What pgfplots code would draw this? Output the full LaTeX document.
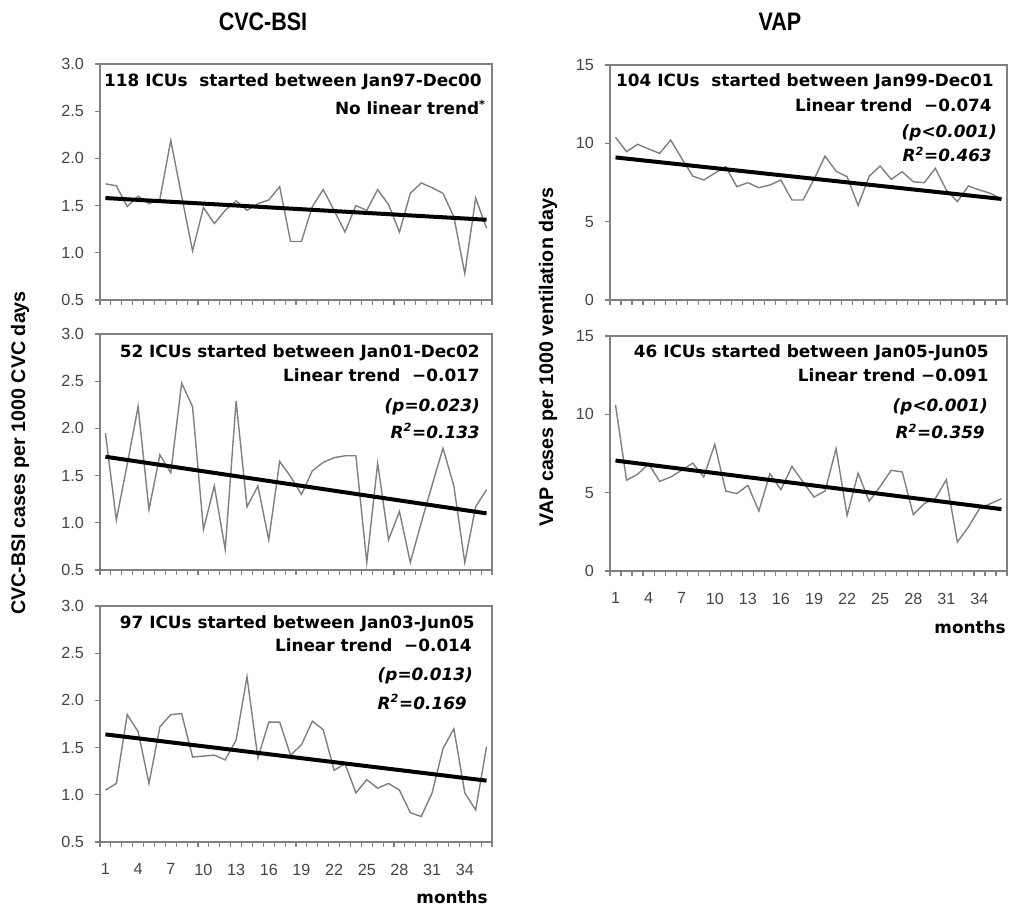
\documentclass[border=0pt]{standalone}
\usepackage{pgfplots}
\pgfplotsset{compat=1.18}
\usepackage{fontspec}
\setmainfont{Liberation Sans}
\newfontfamily\notefont{DejaVu Sans}
\usepackage{graphicx}

\definecolor{rawline}{HTML}{7F7F7F}
\definecolor{framegray}{HTML}{808080}
\definecolor{ticktext}{HTML}{444444}

\pgfplotsset{
  panel/.style={
    scale only axis, width=98mm, height=59mm,
    xmin=0.5, xmax=36.5,
    axis line style={draw=framegray, line width=0.35mm},
    tick style={draw=framegray, line width=0.3mm},
    tick align=outside, major tick length=1.2mm,
    xtick pos=bottom, ytick pos=left,
    xtick={0.5,1.5,...,36.5}, xticklabels={},
    /pgf/number format/assume math mode=true,
    ticklabel style={font=\fontsize{11.5}{13}\selectfont, text=ticktext},
    yticklabel style={xshift=-1.6mm},
    clip=false,
  },
  monthlabels/.style={
    extra x ticks={1,4,...,34},
    extra x tick style={major tick length=0pt,
      xticklabel style={yshift=-4.2mm}},
  },
  cvc/.style={panel, ymin=0.5, ymax=3.0, ytick={0.5,1.0,...,3.0},
    yticklabel style={/pgf/number format/.cd, fixed, fixed zerofill, precision=1}},
  vap/.style={panel, width=99.25mm, height=58.75mm, ymin=0, ymax=15, ytick={0,5,10,15}},
  raw/.style={rawline, line width=0.35mm},
  trend/.style={black, line width=1mm},
}

\tikzset{note/.style={anchor=base east, inner sep=0pt,
  font=\notefont\fontsize{12}{14}\selectfont\bfseries}}

\begin{document}
\begin{tikzpicture}
\useasboundingbox (0,0) rectangle (253mm,-227.5mm);

% CVC-BSI, 118 ICUs
\begin{axis}[cvc, at={(25mm,-75mm)}, anchor=south west]
\addplot[raw] coordinates {(1,1.73)(2,1.71)(3,1.49)(4,1.60)(5,1.52)(6,1.57)(7,2.19)(8,1.60)(9,1.02)(10,1.48)(11,1.31)(12,1.45)(13,1.55)(14,1.45)(15,1.52)(16,1.56)(17,1.70)(18,1.12)(19,1.12)(20,1.49)(21,1.67)(22,1.45)(23,1.22)(24,1.50)(25,1.45)(26,1.67)(27,1.51)(28,1.22)(29,1.63)(30,1.74)(31,1.69)(32,1.63)(33,1.38)(34,0.78)(35,1.58)(36,1.26)};
\addplot[trend] coordinates {(1,1.58)(36,1.35)};
\end{axis}

% CVC-BSI, 52 ICUs
\begin{axis}[cvc, at={(25mm,-142.5mm)}, anchor=south west]
\addplot[raw] coordinates {(1,1.95)(2,1.03)(3,1.62)(4,2.23)(5,1.14)(6,1.72)(7,1.53)(8,2.48)(9,2.23)(10,0.93)(11,1.39)(12,0.72)(13,2.29)(14,1.17)(15,1.39)(16,0.82)(17,1.65)(18,1.49)(19,1.30)(20,1.55)(21,1.64)(22,1.69)(23,1.71)(24,1.71)(25,0.58)(26,1.63)(27,0.82)(28,1.12)(29,0.58)(30,1.00)(31,1.40)(32,1.79)(33,1.39)(34,0.58)(35,1.17)(36,1.35)};
\addplot[trend] coordinates {(1,1.70)(36,1.10)};
\end{axis}

% CVC-BSI, 97 ICUs
\begin{axis}[cvc, monthlabels, at={(25mm,-210.5mm)}, anchor=south west]
\addplot[raw] coordinates {(1,1.05)(2,1.12)(3,1.85)(4,1.67)(5,1.12)(6,1.72)(7,1.85)(8,1.86)(9,1.40)(10,1.41)(11,1.42)(12,1.37)(13,1.58)(14,2.25)(15,1.39)(16,1.77)(17,1.77)(18,1.42)(19,1.53)(20,1.78)(21,1.69)(22,1.26)(23,1.33)(24,1.02)(25,1.16)(26,1.07)(27,1.12)(28,1.05)(29,0.81)(30,0.77)(31,1.02)(32,1.49)(33,1.70)(34,1.02)(35,0.84)(36,1.51)};
\addplot[trend] coordinates {(1,1.64)(36,1.15)};
\end{axis}

% VAP, 104 ICUs
\begin{axis}[vap, at={(152.5mm,-75mm)}, anchor=south west]
\addplot[raw] coordinates {(1,10.38)(2,9.47)(3,9.94)(4,9.64)(5,9.36)(6,10.21)(7,9.04)(8,7.91)(9,7.66)(10,8.09)(11,8.51)(12,7.23)(13,7.49)(14,7.17)(15,7.34)(16,7.66)(17,6.38)(18,6.38)(19,7.70)(20,9.19)(21,8.22)(22,7.87)(23,6.03)(24,7.90)(25,8.55)(26,7.70)(27,8.19)(28,7.55)(29,7.49)(30,8.40)(31,7.02)(32,6.28)(33,7.28)(34,7.02)(35,6.81)(36,6.43)};
\addplot[trend] coordinates {(1,9.10)(36,6.45)};
\end{axis}

% VAP, 46 ICUs
\begin{axis}[vap, monthlabels, at={(152.5mm,-142.75mm)}, anchor=south west]
\addplot[raw] coordinates {(1,10.6)(2,5.79)(3,6.17)(4,6.85)(5,5.72)(6,6.00)(7,6.43)(8,6.89)(9,6.00)(10,8.09)(11,5.10)(12,4.94)(13,5.47)(14,3.83)(15,6.21)(16,5.19)(17,6.68)(18,5.68)(19,4.72)(20,5.10)(21,7.81)(22,3.55)(23,6.25)(24,4.45)(25,5.40)(26,6.43)(27,6.32)(28,3.60)(29,4.30)(30,4.62)(31,5.83)(32,1.85)(33,2.81)(34,3.98)(35,4.30)(36,4.62)};
\addplot[trend] coordinates {(1,7.05)(36,3.95)};
\end{axis}

% titles
\node[font=\fontsize{18}{20}\selectfont\bfseries] at (65.75mm,-5.5mm) {\scalebox{0.85}[1]{CVC-BSI}};
\node[font=\fontsize{18}{20}\selectfont\bfseries] at (195mm,-5.5mm) {\scalebox{0.85}[1]{VAP}};

% axis titles
\node[rotate=90, font=\fontsize{14}{16}\selectfont\bfseries] at (5mm,-113.25mm) {CVC-BSI cases per 1000 CVC days};
\node[rotate=90, font=\fontsize{14}{16}\selectfont\bfseries] at (137mm,-89.25mm) {VAP cases per 1000 ventilation days};
\node[note] at (122mm,-225.75mm) {months};
\node[note] at (251.5mm,-158.25mm) {months};

% panel notes
\node[note] at (120.5mm,-21.75mm) {118 ICUs\ \ started between Jan97-Dec00};
\node[note] at (121.5mm,-28.75mm) {No linear trend\textsuperscript{*}};

\node[note] at (120mm,-89.5mm) {52 ICUs started between Jan01-Dec02};
\node[note] at (120mm,-95.5mm) {Linear trend\ \ −0.017};
\node[note] at (120mm,-102.75mm) {\itshape (p=0.023)};
\node[note] at (120mm,-109.5mm) {\itshape R\textsuperscript{2}=0.133};

\node[note] at (118.75mm,-157mm) {97 ICUs started between Jan03-Jun05};
\node[note] at (118mm,-162.75mm) {Linear trend\ \ −0.014};
\node[note] at (118.25mm,-170mm) {\itshape (p=0.013)};
\node[note] at (116.75mm,-177.25mm) {\itshape R\textsuperscript{2}=0.169};

\node[note] at (248.5mm,-21.75mm) {104 ICUs\ \ started between Jan99-Dec01};
\node[note] at (248mm,-28mm) {Linear trend\ \ −0.074};
\node[note] at (249.25mm,-34.5mm) {\itshape (p<0.001)};
\node[note] at (248mm,-40.5mm) {\itshape R\textsuperscript{2}=0.463};

\node[note] at (247.25mm,-89.5mm) {46 ICUs started between Jan05-Jun05};
\node[note] at (247.25mm,-95.5mm) {Linear trend −0.091};
\node[note] at (247mm,-103mm) {\itshape (p<0.001)};
\node[note] at (246.25mm,-109.75mm) {\itshape R\textsuperscript{2}=0.359};
\end{tikzpicture}
\end{document}
